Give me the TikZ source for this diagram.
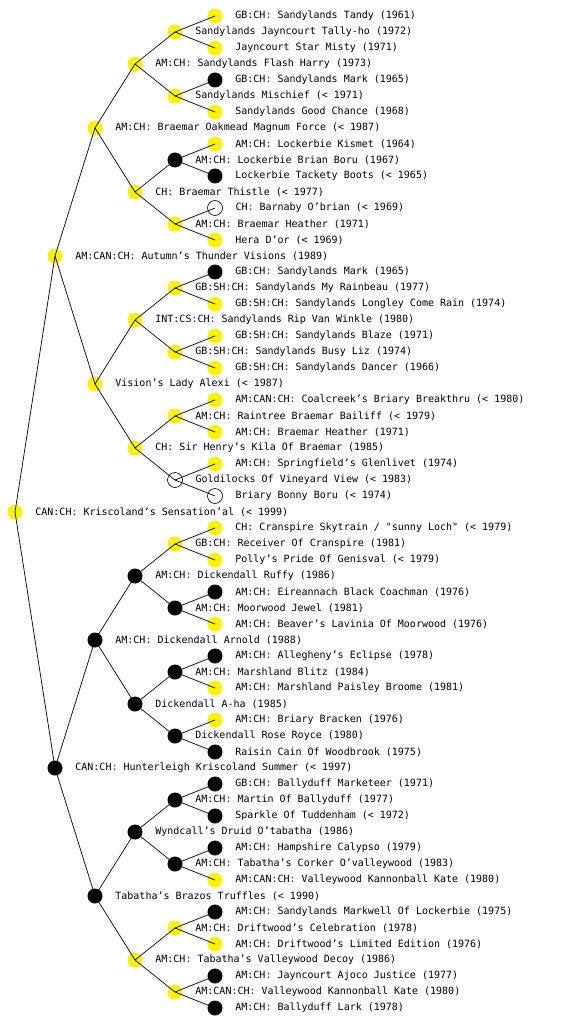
\documentclass[tikz,border=0pt]{standalone}
\usepackage{fontspec}
\setmainfont{DejaVu Sans Mono}[Ligatures=TeXOff]
\usepackage{tikz}
\usetikzlibrary{positioning}

\tikzset{
  dog/.style={circle, minimum size=15pt, inner sep=0pt},
  yel/.style={dog, fill=yellow},
  blk/.style={dog, fill=black},
  wht/.style={dog, draw=black, line width=0.6pt, fill=white},
  dogname/.style={font=\fontsize{10}{12}\selectfont, inner sep=0pt, label distance=12.5pt},
  link/.style={line width=0.7pt}
}

\begin{document}
\begin{tikzpicture}[x=1pt, y=-1pt]
    \useasboundingbox (0,0) rectangle (560,1024);
    % Root
    \node[yel, label={[dogname]0:{CAN:CH: Kriscoland’s Sensation’al (< 1999)}}] (sensational) at (15,512) {};
    % Parents
    \node[yel, label={[dogname]0:{AM:CAN:CH: Autumn’s Thunder Visions (1989)}}] (thunder) at (55,256) {};
    \node[blk, label={[dogname]0:{CAN:CH: Hunterleigh Kriscoland Summer (< 1997)}}] (summer) at (55,768) {};
    % Grandparents
    \node[yel, label={[dogname]0:{AM:CH: Braemar Oakmead Magnum Force (< 1987)}}] (magnum) at (95,128) {};
    \node[yel, label={[dogname]0:{Vision’s Lady Alexi (< 1987)}}] (alexi) at (95,384) {};
    \node[blk, label={[dogname]0:{AM:CH: Dickendall Arnold (1988)}}] (arnold) at (95,640) {};
    \node[blk, label={[dogname]0:{Tabatha’s Brazos Truffles (< 1990)}}] (truffles) at (95,896) {};
    % Great-grandparents
    \node[yel, label={[dogname]0:{AM:CH: Sandylands Flash Harry (1973)}}] (flash) at (135,64) {};
    \node[yel, label={[dogname]0:{CH: Braemar Thistle (< 1977)}}] (thistle) at (135,192) {};
    \node[yel, label={[dogname]0:{INT:CS:CH: Sandylands Rip Van Winkle (1980)}}] (ripvan) at (135,320) {};
    \node[yel, label={[dogname]0:{CH: Sir Henry’s Kila Of Braemar (1985)}}] (kila) at (135,448) {};
    \node[blk, label={[dogname]0:{AM:CH: Dickendall Ruffy (1986)}}] (ruffy) at (135,576) {};
    \node[blk, label={[dogname]0:{Dickendall A-ha (1985)}}] (aha) at (135,704) {};
    \node[blk, label={[dogname]0:{Wyndcall’s Druid O’tabatha (1986)}}] (druid) at (135,832) {};
    \node[yel, label={[dogname]0:{AM:CH: Tabatha’s Valleywood Decoy (1986)}}] (decoy) at (135,960) {};
    % Generation 4
    \node[yel, label={[dogname]0:{Sandylands Jayncourt Tally-ho (1972)}}] (tallyho) at (175,32) {};
    \node[yel, label={[dogname]0:{Sandylands Mischief (< 1971)}}] (mischief) at (175,96) {};
    \node[blk, label={[dogname]0:{AM:CH: Lockerbie Brian Boru (1967)}}] (brianboru) at (175,160) {};
    \node[yel, label={[dogname]0:{AM:CH: Braemar Heather (1971)}}] (heathera) at (175,224) {};
    \node[yel, label={[dogname]0:{GB:SH:CH: Sandylands My Rainbeau (1977)}}] (rainbeau) at (175,288) {};
    \node[yel, label={[dogname]0:{GB:SH:CH: Sandylands Busy Liz (1974)}}] (busyliz) at (175,352) {};
    \node[yel, label={[dogname]0:{AM:CH: Raintree Braemar Bailiff (< 1979)}}] (bailiff) at (175,416) {};
    \node[wht, label={[dogname]0:{Goldilocks Of Vineyard View (< 1983)}}] (goldilocks) at (175,480) {};
    \node[yel, label={[dogname]0:{GB:CH: Receiver Of Cranspire (1981)}}] (receiver) at (175,544) {};
    \node[blk, label={[dogname]0:{AM:CH: Moorwood Jewel (1981)}}] (jewel) at (175,608) {};
    \node[blk, label={[dogname]0:{AM:CH: Marshland Blitz (1984)}}] (blitz) at (175,672) {};
    \node[blk, label={[dogname]0:{Dickendall Rose Royce (1980)}}] (roseroyce) at (175,736) {};
    \node[blk, label={[dogname]0:{AM:CH: Martin Of Ballyduff (1977)}}] (martin) at (175,800) {};
    \node[blk, label={[dogname]0:{AM:CH: Tabatha’s Corker O’valleywood (1983)}}] (corker) at (175,864) {};
    \node[yel, label={[dogname]0:{AM:CH: Driftwood’s Celebration (1978)}}] (celebration) at (175,928) {};
    \node[yel, label={[dogname]0:{AM:CAN:CH: Valleywood Kannonball Kate (1980)}}] (kateb) at (175,992) {};
    % Generation 5
    \node[yel, label={[dogname]0:{GB:CH: Sandylands Tandy (1961)}}] (tandy) at (215,16) {};
    \node[yel, label={[dogname]0:{Jayncourt Star Misty (1971)}}] (starmisty) at (215,48) {};
    \node[blk, label={[dogname]0:{GB:CH: Sandylands Mark (1965)}}] (marka) at (215,80) {};
    \node[yel, label={[dogname]0:{Sandylands Good Chance (1968)}}] (goodchance) at (215,112) {};
    \node[yel, label={[dogname]0:{AM:CH: Lockerbie Kismet (1964)}}] (kismet) at (215,144) {};
    \node[blk, label={[dogname]0:{Lockerbie Tackety Boots (< 1965)}}] (tackety) at (215,176) {};
    \node[wht, label={[dogname]0:{CH: Barnaby O’brian (< 1969)}}] (barnaby) at (215,208) {};
    \node[yel, label={[dogname]0:{Hera D’or (< 1969)}}] (hera) at (215,240) {};
    \node[blk, label={[dogname]0:{GB:CH: Sandylands Mark (1965)}}] (markb) at (215,272) {};
    \node[yel, label={[dogname]0:{GB:SH:CH: Sandylands Longley Come Rain (1974)}}] (longley) at (215,304) {};
    \node[yel, label={[dogname]0:{GB:SH:CH: Sandylands Blaze (1971)}}] (blaze) at (215,336) {};
    \node[yel, label={[dogname]0:{GB:SH:CH: Sandylands Dancer (1966)}}] (dancer) at (215,368) {};
    \node[yel, label={[dogname]0:{AM:CAN:CH: Coalcreek’s Briary Breakthru (< 1980)}}] (breakthru) at (215,400) {};
    \node[yel, label={[dogname]0:{AM:CH: Braemar Heather (1971)}}] (heatherb) at (215,432) {};
    \node[yel, label={[dogname]0:{AM:CH: Springfield’s Glenlivet (1974)}}] (glenlivet) at (215,464) {};
    \node[wht, label={[dogname]0:{Briary Bonny Boru (< 1974)}}] (bonnyboru) at (215,496) {};
    \node[yel, label={[dogname]0:{CH: Cranspire Skytrain / "sunny Loch" (< 1979)}}] (skytrain) at (215,528) {};
    \node[yel, label={[dogname]0:{Polly’s Pride Of Genisval (< 1979)}}] (polly) at (215,560) {};
    \node[blk, label={[dogname]0:{AM:CH: Eireannach Black Coachman (1976)}}] (coachman) at (215,592) {};
    \node[yel, label={[dogname]0:{AM:CH: Beaver’s Lavinia Of Moorwood (1976)}}] (lavinia) at (215,624) {};
    \node[blk, label={[dogname]0:{AM:CH: Allegheny’s Eclipse (1978)}}] (eclipse) at (215,656) {};
    \node[yel, label={[dogname]0:{AM:CH: Marshland Paisley Broome (1981)}}] (paisley) at (215,688) {};
    \node[yel, label={[dogname]0:{AM:CH: Briary Bracken (1976)}}] (bracken) at (215,720) {};
    \node[blk, label={[dogname]0:{Raisin Cain Of Woodbrook (1975)}}] (raisin) at (215,752) {};
    \node[blk, label={[dogname]0:{GB:CH: Ballyduff Marketeer (1971)}}] (marketeer) at (215,784) {};
    \node[blk, label={[dogname]0:{Sparkle Of Tuddenham (< 1972)}}] (sparkle) at (215,816) {};
    \node[blk, label={[dogname]0:{AM:CH: Hampshire Calypso (1979)}}] (calypso) at (215,848) {};
    \node[yel, label={[dogname]0:{AM:CAN:CH: Valleywood Kannonball Kate (1980)}}] (katea) at (215,880) {};
    \node[blk, label={[dogname]0:{AM:CH: Sandylands Markwell Of Lockerbie (1975)}}] (markwell) at (215,912) {};
    \node[yel, label={[dogname]0:{AM:CH: Driftwood’s Limited Edition (1976)}}] (limited) at (215,944) {};
    \node[blk, label={[dogname]0:{AM:CH: Jayncourt Ajoco Justice (1977)}}] (justice) at (215,976) {};
    \node[blk, label={[dogname]0:{AM:CH: Ballyduff Lark (1978)}}] (lark) at (215,1008) {};
    % Lines from each dog to its sire and dam
    \draw[link] (sensational.center) -- (thunder.center);
    \draw[link] (sensational.center) -- (summer.center);
    \draw[link] (thunder.center) -- (magnum.center);
    \draw[link] (thunder.center) -- (alexi.center);
    \draw[link] (summer.center) -- (arnold.center);
    \draw[link] (summer.center) -- (truffles.center);
    \draw[link] (magnum.center) -- (flash.center);
    \draw[link] (magnum.center) -- (thistle.center);
    \draw[link] (alexi.center) -- (ripvan.center);
    \draw[link] (alexi.center) -- (kila.center);
    \draw[link] (arnold.center) -- (ruffy.center);
    \draw[link] (arnold.center) -- (aha.center);
    \draw[link] (truffles.center) -- (druid.center);
    \draw[link] (truffles.center) -- (decoy.center);
    \draw[link] (flash.center) -- (tallyho.center);
    \draw[link] (flash.center) -- (mischief.center);
    \draw[link] (thistle.center) -- (brianboru.center);
    \draw[link] (thistle.center) -- (heathera.center);
    \draw[link] (ripvan.center) -- (rainbeau.center);
    \draw[link] (ripvan.center) -- (busyliz.center);
    \draw[link] (kila.center) -- (bailiff.center);
    \draw[link] (kila.center) -- (goldilocks.center);
    \draw[link] (ruffy.center) -- (receiver.center);
    \draw[link] (ruffy.center) -- (jewel.center);
    \draw[link] (aha.center) -- (blitz.center);
    \draw[link] (aha.center) -- (roseroyce.center);
    \draw[link] (druid.center) -- (martin.center);
    \draw[link] (druid.center) -- (corker.center);
    \draw[link] (decoy.center) -- (celebration.center);
    \draw[link] (decoy.center) -- (kateb.center);
    \draw[link] (tallyho.center) -- (tandy.center);
    \draw[link] (tallyho.center) -- (starmisty.center);
    \draw[link] (mischief.center) -- (marka.center);
    \draw[link] (mischief.center) -- (goodchance.center);
    \draw[link] (brianboru.center) -- (kismet.center);
    \draw[link] (brianboru.center) -- (tackety.center);
    \draw[link] (heathera.center) -- (barnaby.center);
    \draw[link] (heathera.center) -- (hera.center);
    \draw[link] (rainbeau.center) -- (markb.center);
    \draw[link] (rainbeau.center) -- (longley.center);
    \draw[link] (busyliz.center) -- (blaze.center);
    \draw[link] (busyliz.center) -- (dancer.center);
    \draw[link] (bailiff.center) -- (breakthru.center);
    \draw[link] (bailiff.center) -- (heatherb.center);
    \draw[link] (goldilocks.center) -- (glenlivet.center);
    \draw[link] (goldilocks.center) -- (bonnyboru.center);
    \draw[link] (receiver.center) -- (skytrain.center);
    \draw[link] (receiver.center) -- (polly.center);
    \draw[link] (jewel.center) -- (coachman.center);
    \draw[link] (jewel.center) -- (lavinia.center);
    \draw[link] (blitz.center) -- (eclipse.center);
    \draw[link] (blitz.center) -- (paisley.center);
    \draw[link] (roseroyce.center) -- (bracken.center);
    \draw[link] (roseroyce.center) -- (raisin.center);
    \draw[link] (martin.center) -- (marketeer.center);
    \draw[link] (martin.center) -- (sparkle.center);
    \draw[link] (corker.center) -- (calypso.center);
    \draw[link] (corker.center) -- (katea.center);
    \draw[link] (celebration.center) -- (markwell.center);
    \draw[link] (celebration.center) -- (limited.center);
    \draw[link] (kateb.center) -- (justice.center);
    \draw[link] (kateb.center) -- (lark.center);
\end{tikzpicture}
\end{document}
